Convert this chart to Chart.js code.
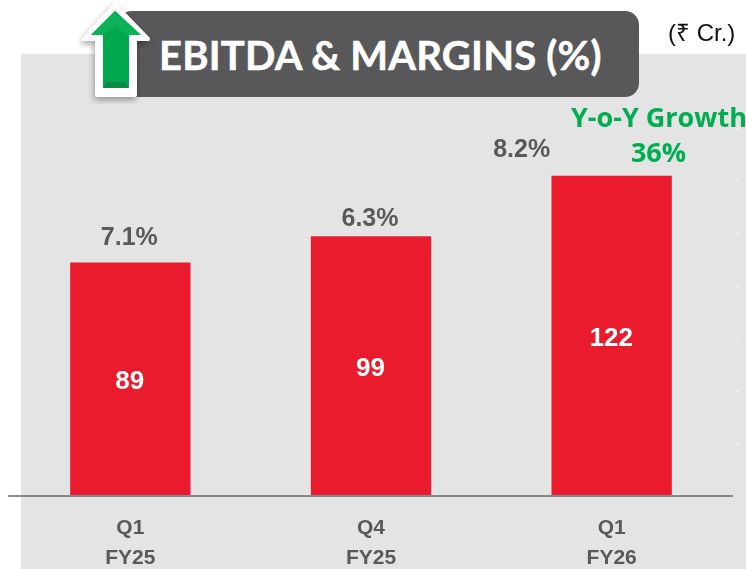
<!DOCTYPE html>
<html>
<head>
<meta charset="utf-8">
<title>EBITDA & Margins</title>
<script src="https://cdn.jsdelivr.net/npm/chart.js@4/dist/chart.umd.js"></script>
<style>
  html, body { margin: 0; padding: 0; background: #fff; }
  #wrap { position: relative; width: 746px; height: 569px; overflow: hidden; }
  #panel { position: absolute; left: 21px; top: 54px; right: 0; bottom: 0; background: #e4e4e4; }
  #canvas1 { position: absolute; left: 0; top: 0; }
  #pill { position: absolute; left: 118px; top: 11px; width: 521px; height: 86px; background: #58585a; border-radius: 14px; }
  #title { position: absolute; left: 159px; top: 31px; font: 700 40px/48px Lato, sans-serif; letter-spacing: 0.2px; -webkit-text-stroke: 0.5px #fff; color: #fff; white-space: nowrap; }
  #unit { position: absolute; left: 668px; top: 19px; font: 24px/28px "Liberation Sans", sans-serif; color: #111; white-space: nowrap; }
  #growth { position: absolute; left: 571px; top: 99px; width: 175px; text-align: center; font: 700 27px/35px "Open Sans", sans-serif; color: #00ad50; white-space: nowrap; }
  #arrow { position: absolute; left: 78px; top: 0; }
</style>
</head>
<body>
<div id="wrap">
  <div id="panel"></div>
  <canvas id="canvas1" width="746" height="569"></canvas>
  <div id="pill"></div>
  <svg id="arrow" width="80" height="104" viewBox="78 0 80 104">
    <defs>
      <filter id="sh" x="-30%" y="-30%" width="160%" height="160%"><feDropShadow dx="-1" dy="3" stdDeviation="3" flood-color="#000" flood-opacity="0.35"/></filter>
    </defs>
    <path d="M115 5 L148 39 L135 39 L135 95 L97 95 L97 39 L84 39 Z" fill="#fff" stroke="#fff" stroke-width="4" stroke-linejoin="round" filter="url(#sh)"/>
    <path d="M115 11 L141 35 L129 35 L129 88 L103 88 L103 35 L91 35 Z" fill="#00a84f"/>
    <path d="M103 35 L91 35 L115 11 L141 35 L129 35 L115 27 Z" fill="#0bb257"/>
    <path d="M103 88 L107 82 L125 82 L129 88 Z" fill="#0b8a45"/>
  </svg>
  <div id="title">EBITDA &amp; MARGINS (%)</div>
  <div id="unit">(₹ Cr.)</div>
  <div id="growth">Y-o-Y Growth<br>36%</div>
</div>
<script>
const categories = [['Q1', 'FY25'], ['Q4', 'FY25'], ['Q1', 'FY26']];
const ebitda = [89, 99, 122];
const margins = ['7.1%', '6.3%', '8.2%'];
const yTicks = [20, 40, 60, 80, 100, 120, 140];

const labelsPlugin = {
  id: 'barLabels',
  afterDatasetsDraw(chart) {
    const ctx = chart.ctx;
    const bars = chart.getDatasetMeta(0).data;
    const yScale = chart.scales.y;
    const base = yScale.getPixelForValue(0);

    ctx.save();
    // axis line runs past the plot on the left
    ctx.strokeStyle = '#8a8a8a';
    ctx.lineWidth = 2;
    ctx.beginPath();
    ctx.moveTo(8, base);
    ctx.lineTo(733, base);
    ctx.stroke();

    // leftover y tick marks at the right edge
    ctx.strokeStyle = '#f2f2f2';
    ctx.lineWidth = 1.5;
    yTicks.forEach(t => {
      const y = yScale.getPixelForValue(t);
      ctx.beginPath();
      ctx.moveTo(735, y);
      ctx.lineTo(739, y);
      ctx.stroke();
    });

    ctx.textAlign = 'center';
    ctx.textBaseline = 'middle';
    const lift = [24, 17, 26];
    bars.forEach((bar, i) => {
      ctx.font = '700 26px "Liberation Sans", sans-serif';
      ctx.fillStyle = '#fff';
      ctx.fillText(String(ebitda[i]), bar.x - 0.5, (bar.y + base) / 2 + 3);
      ctx.font = '700 25px "Liberation Sans", sans-serif';
      ctx.fillStyle = '#595959';
      ctx.fillText(margins[i], i === 2 ? bar.x - 90 : bar.x - 1, bar.y - lift[i]);
    });
    ctx.restore();
  }
};

new Chart(document.getElementById('canvas1').getContext('2d'), {
  type: 'bar',
  data: {
    labels: categories,
    datasets: [{
      data: ebitda,
      backgroundColor: '#ea1b2d',
      categoryPercentage: 1,
      barPercentage: 0.5
    }]
  },
  options: {
    responsive: false,
    animation: false,
    layout: { padding: { left: 10, right: 14, top: 0, bottom: 0 } },
    plugins: { legend: { display: false }, tooltip: { enabled: false } },
    scales: {
      y: { display: false, min: 0, max: 189 },
      x: {
        afterFit(scale) { scale.height = 73; },
        grid: { display: false },
        border: { display: false },
        ticks: {
          color: '#595959',
          padding: 9,
          maxRotation: 0,
          font: { family: '"Liberation Sans", sans-serif', weight: '700', size: 21, lineHeight: 1.43 }
        }
      }
    }
  },
  plugins: [labelsPlugin]
});
</script>
</body>
</html>
